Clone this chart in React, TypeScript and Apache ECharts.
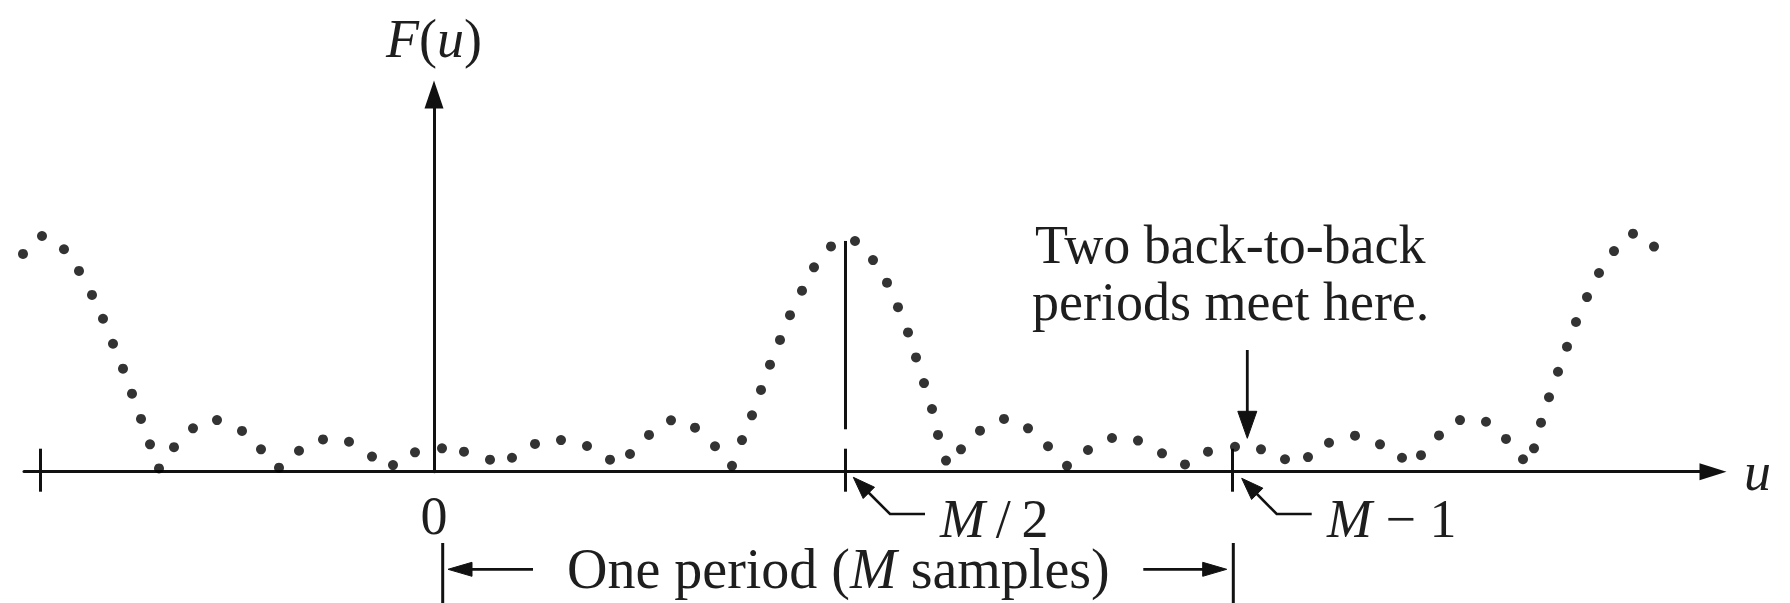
import React, { useEffect, useRef } from "react";
import * as echarts from "echarts";

// Horizontal position of each dot (u, pixel-like units, 0 = vertical axis)
const U = [
  -411, -392, -370, -355, -342, -331, -321, -311, -302, -293, -284, -275, -260, -241, -217, -192,
  -173, -155, -135, -111, -85, -62, -41, -19, 8, 30, 56, 78, 101, 127, 153, 176, 196, 215, 237,
  261, 281, 298, 308, 318, 327, 336, 346, 356, 368, 380, 397, 421, 439, 453, 464, 474, 482, 490,
  498, 504, 512, 527, 546, 570, 594, 614, 633, 654, 678, 704, 728, 751, 774, 801, 827, 851, 874,
  895, 921, 946, 968, 987, 1005, 1026, 1052, 1072, 1089, 1100, 1107, 1115, 1124, 1133, 1142, 1153,
  1165, 1180, 1199, 1220,
];
// Magnitude |F(u)| of each dot (peak ≈ 100)
const F = [
  92.4, 100.0, 94.4, 85.2, 75.0, 64.9, 54.3, 43.7, 33.1, 22.4, 11.6, 1.4, 10.4, 18.4, 21.9, 17.3,
  9.5, 1.7, 8.9, 13.7, 12.7, 6.4, 2.8, 8.2, 9.9, 8.5, 5.1, 5.9, 11.8, 13.4, 10.9, 5.1, 7.5, 15.6, 21.8,
  18.7, 10.8, 2.5, 13.4, 23.9, 34.7, 45.4, 55.9, 66.4, 76.8, 86.7, 95.6, 97.9, 89.8, 80.2, 69.8, 59.1, 48.5, 37.6,
  26.6, 15.6, 4.7, 9.5, 17.4, 22.4, 18.4, 10.8, 2.5, 9.2, 14.3, 13.2, 7.8, 3.1, 8.5, 10.6, 9.5, 5.3, 6.2,
  12.3, 15.3, 11.6, 5.9, 7.0, 15.4, 21.9, 21.2, 13.9, 5.3, 9.9, 20.8, 31.6, 42.4, 53.0, 63.5, 74.1,
  84.3, 93.6, 101.0, 95.5,
];
// Tick marks on the u axis: left period edge, M/2, M-1
const TICK_U = [-394, 411, 798];
const LABEL_U = [0];
// Vertical marker line at M/2 (u, top F, bottom F)
const HALF_U = 411;
const HALF_TOP = 97.9;
const HALF_BOTTOM = 18.0;

const X_MIN = -410;
const X_MAX = 1279;
const Y_MIN = 0;
const Y_MAX = 160;

const SERIF = '"Liberation Serif", "Times New Roman", "DejaVu Serif", serif';
const INK = "#111111";
const FS = 54;

function head(tx: number, ty: number, dx: number, dy: number, len: number, hw: number) {
  const n = Math.hypot(dx, dy);
  const ux = dx / n;
  const uy = dy / n;
  const bx = tx - ux * len;
  const by = ty - uy * len;
  return {
    type: "polygon",
    shape: {
      points: [
        [tx, ty],
        [bx - uy * hw, by + ux * hw],
        [bx + uy * hw, by - ux * hw],
      ],
    },
    style: { fill: INK, stroke: INK, lineWidth: 1 },
    silent: true,
  };
}

function seg(points: number[][], w = 2.6) {
  return {
    type: "polyline",
    shape: { points },
    style: { stroke: INK, lineWidth: w, fill: null },
    silent: true,
  };
}

function txt(x: number, y: number, text: string, size = FS) {
  return {
    type: "text",
    x,
    y,
    silent: true,
    style: {
      text,
      fill: "#1e1e1e",
      fontSize: size,
      fontFamily: SERIF,
      lineHeight: 44,
      textAlign: "left",
      textVerticalAlign: "middle",
      rich: {
        i: { fontStyle: "italic", fontSize: size, fontFamily: SERIF, fill: "#1e1e1e", lineHeight: 44 },
      },
    },
  };
}

export default function App() {
  const ref = useRef<HTMLDivElement>(null);

  useEffect(() => {
    if (!ref.current) return;
    const chart = echarts.init(ref.current, null, { renderer: "svg" });
    const lineStyle = { color: INK, width: 3 };
    const option: any = {
      animation: false,
      backgroundColor: "#ffffff",
      grid: {
        left: 24,
        right: 77,
        top: 94.6,
        bottom: 131.3,
        containLabel: false,
        outerBoundsMode: "none",
      },
      xAxis: [
        {
          type: "value",
          position: "bottom",
          min: X_MIN,
          max: X_MAX,
          name: "u",
          nameLocation: "end",
          nameGap: 31,
          nameTextStyle: { fontFamily: SERIF, fontSize: FS, fontStyle: "italic", color: "#1e1e1e" },
          axisLine: {
            show: true,
            onZero: true,
            symbol: ["none", "triangle"],
            symbolSize: [17, 27],
            lineStyle,
          },
          axisTick: { show: true, customValues: TICK_U, length: 20, inside: false, lineStyle },
          axisLabel: {
            show: true,
            customValues: LABEL_U,
            formatter: (v: number) => String(v),
            margin: 17,
            fontFamily: SERIF,
            fontSize: FS,
            color: "#1e1e1e",
          },
          splitLine: { show: false },
        },
        {
          type: "value",
          position: "bottom",
          min: X_MIN,
          max: X_MAX,
          axisLine: { show: false, onZero: false },
          axisTick: { show: true, customValues: TICK_U, length: 23, inside: true, lineStyle },
          axisLabel: { show: false },
          splitLine: { show: false },
        },
      ],
      yAxis: {
        type: "value",
        min: Y_MIN,
        max: Y_MAX,
        name: "{i|F}({i|u})",
        nameLocation: "end",
        nameGap: 29,
        nameTextStyle: {
          fontFamily: SERIF,
          fontSize: FS,
          color: "#1e1e1e",
          rich: { i: { fontStyle: "italic", fontFamily: SERIF, fontSize: FS, color: "#1e1e1e" } },
        },
        axisLine: {
          show: true,
          onZero: true,
          symbol: ["none", "triangle"],
          symbolSize: [19, 28],
          lineStyle,
        },
        axisTick: { show: false },
        axisLabel: { show: false },
        splitLine: { show: false },
      },
      series: [
        {
          type: "scatter",
          data: U.map((u, i) => [u, F[i]]),
          symbol: "circle",
          symbolSize: 10,
          itemStyle: { color: "#000" },
          clip: false,
          silent: true,
          markLine: {
            silent: true,
            symbol: ["none", "none"],
            label: { show: false },
            lineStyle: { color: INK, width: 3, type: "solid" },
            data: [[{ coord: [HALF_U, HALF_TOP] }, { coord: [HALF_U, HALF_BOTTOM] }]],
          },
        },
      ],
      graphic: [
        txt(1035, 245, "Two back-to-back"),
        txt(1032, 302, "periods meet here."),
        seg([[1247.3, 350], [1247.3, 416]], 2.8),
        head(1247.3, 438.3, 0, 1, 27, 9.5),
        // M/2 leader
        seg([[925, 514], [890, 514], [866, 490]]),
        head(853.3, 477.3, -1, -1, 22, 8),
        txt(940, 518.5, "{i|M}\u2009/\u20092"),
        // M-1 leader
        seg([[1311.7, 514], [1276.7, 514], [1254, 491]]),
        head(1241.7, 478.3, -1, -1, 22, 8),
        txt(1327, 519, "{i|M} \u2212 1"),
        // One period bracket
        seg([[442.7, 543], [442.7, 603]], 3),
        seg([[1233.3, 543], [1233.3, 603]], 3),
        seg([[533, 569.3], [468, 569.3]], 2.8),
        head(448, 569.3, -1, 0, 24, 7),
        seg([[1143.3, 569.3], [1207, 569.3]], 2.8),
        head(1226.7, 569.3, 1, 0, 24, 7),
        txt(567, 568.5, "One period ({i|M} samples)", 56),
      ],
    };
    chart.setOption(option);
    return () => chart.dispose();
  }, []);

  return (
    <div
      ref={ref}
      style={{ position: "absolute", left: 0, top: 0, width: 1790, height: 603, background: "#fff" }}
    />
  );
}
